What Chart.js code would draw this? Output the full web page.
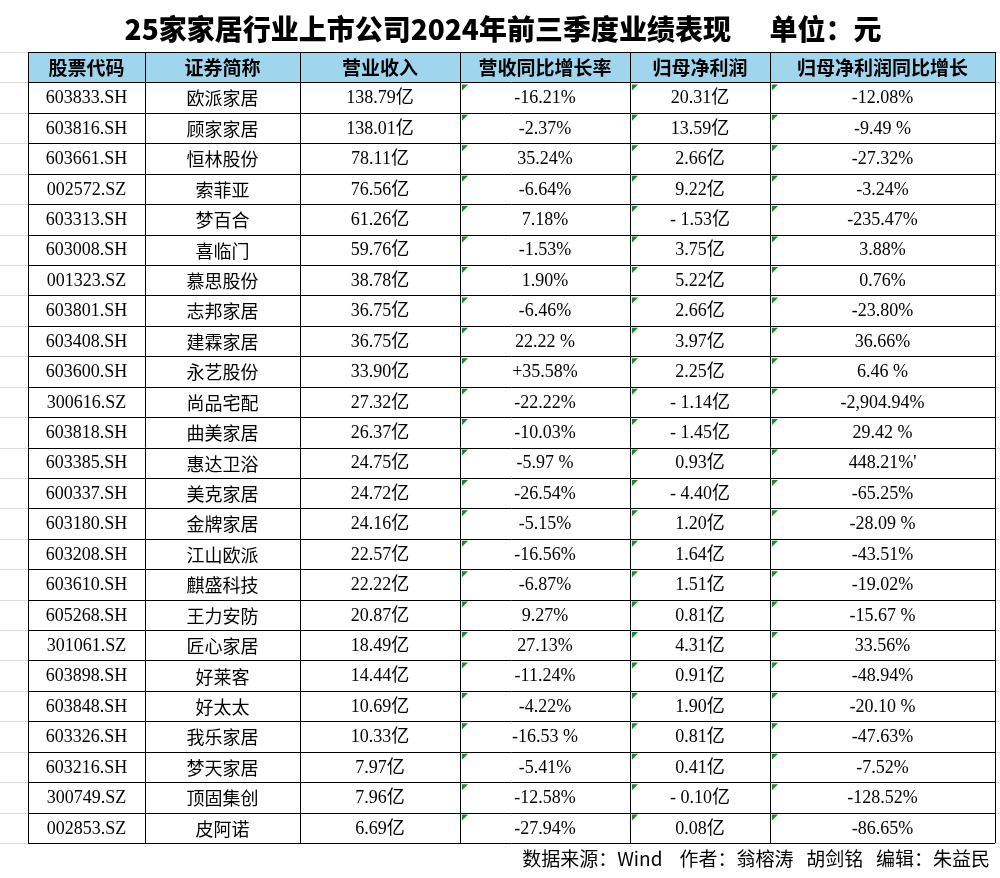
<!DOCTYPE html>
<html><head><meta charset="utf-8">
<script src="https://cdn.jsdelivr.net/npm/chart.js@4"></script>
<style>html,body{margin:0;padding:0;background:#fff}#w{width:1000px;height:878px}</style>
</head><body><div id="w"><canvas id="c" width="1000" height="878"></canvas></div>
<script>
const title = "25家家居行业上市公司2024年前三季度业绩表现      单位：元";
const headers = ["股票代码","证券简称","营业收入","营收同比增长率","归母净利润","归母净利润同比增长"];
const codes = ["603833.SH","603816.SH","603661.SH","002572.SZ","603313.SH","603008.SH","001323.SZ","603801.SH","603408.SH","603600.SH","300616.SZ","603818.SH","603385.SH","600337.SH","603180.SH","603208.SH","603610.SH","605268.SH","301061.SZ","603898.SH","603848.SH","603326.SH","603216.SH","300749.SZ","002853.SZ"];
const names = ["欧派家居","顾家家居","恒林股份","索菲亚","梦百合","喜临门","慕思股份","志邦家居","建霖家居","永艺股份","尚品宅配","曲美家居","惠达卫浴","美克家居","金牌家居","江山欧派","麒盛科技","王力安防","匠心家居","好莱客","好太太","我乐家居","梦天家居","顶固集创","皮阿诺"];
const revenue = ["138.79亿","138.01亿","78.11亿","76.56亿","61.26亿","59.76亿","38.78亿","36.75亿","36.75亿","33.90亿","27.32亿","26.37亿","24.75亿","24.72亿","24.16亿","22.57亿","22.22亿","20.87亿","18.49亿","14.44亿","10.69亿","10.33亿","7.97亿","7.96亿","6.69亿"];
const revGrowth = ["-16.21%","-2.37%","35.24%","-6.64%","7.18%","-1.53%","1.90%","-6.46%","22.22 %","+35.58%","-22.22%","-10.03%","-5.97 %","-26.54%","-5.15%","-16.56%","-6.87%","9.27%","27.13%","-11.24%","-4.22%","-16.53 %","-5.41%","-12.58%","-27.94%"];
const profit = ["20.31亿","13.59亿","2.66亿","9.22亿","- 1.53亿","3.75亿","5.22亿","2.66亿","3.97亿","2.25亿","- 1.14亿","- 1.45亿","0.93亿","- 4.40亿","1.20亿","1.64亿","1.51亿","0.81亿","4.31亿","0.91亿","1.90亿","0.81亿","0.41亿","- 0.10亿","0.08亿"];
const profitGrowth = ["-12.08%","-9.49 %","-27.32%","-3.24%","-235.47%","3.88%","0.76%","-23.80%","36.66%","6.46 %","-2,904.94%","29.42 %","448.21%'","-65.25%","-28.09 %","-43.51%","-19.02%","-15.67 %","33.56%","-48.94%","-20.10 %","-47.63%","-7.52%","-128.52%","-86.65%"];
const footer = "数据来源：Wind    作者：翁榕涛   胡剑铭   编辑：朱益民";

const colEdges = [28,145,300,460,630,770,995];
const rowLabels = ["header"].concat(codes);
const cols = [codes,names,revenue,revGrowth,profit,profitGrowth];

const tablePlugin = {
  id:'table',
  afterDraw(chart){
    const ctx=chart.ctx, x=chart.scales.x, y=chart.scales.y;
    const n=rowLabels.length;
    const half=(y.getPixelForValue(1)-y.getPixelForValue(0))/2;
    const top=i=>y.getPixelForValue(i)-half;
    ctx.save();
    ctx.fillStyle='#000';ctx.font='900 28px "Noto Sans CJK SC"';ctx.textAlign='center';ctx.textBaseline='middle';
    ctx.fillText(title,503,29);
    ctx.fillStyle='#9fd6ee';
    ctx.fillRect(x.getPixelForValue(colEdges[0]),top(0),x.getPixelForValue(colEdges[6])-x.getPixelForValue(colEdges[0]),2*half);
    ctx.strokeStyle='#dcdcdc';ctx.lineWidth=1;
    for(let i=0;i<=n;i++){const yy=Math.round(top(i))+0.5;ctx.beginPath();ctx.moveTo(0,yy);ctx.lineTo(1000,yy);ctx.stroke();}
    ctx.strokeStyle='#000';
    for(let i=0;i<=n;i++){const yy=Math.round(top(i))+0.5;ctx.beginPath();ctx.moveTo(x.getPixelForValue(colEdges[0]),yy);ctx.lineTo(x.getPixelForValue(colEdges[6]),yy);ctx.stroke();}
    colEdges.forEach(e=>{const xx=Math.round(x.getPixelForValue(e))+0.5;ctx.beginPath();ctx.moveTo(xx,top(0));ctx.lineTo(xx,top(n));ctx.stroke();});
    ctx.fillStyle='#000';ctx.font='bold 19px "Noto Sans CJK SC"';
    headers.forEach((h,c)=>{const cx=(x.getPixelForValue(colEdges[c])+x.getPixelForValue(colEdges[c+1]))/2;ctx.fillText(h,cx,y.getPixelForValue(0)+1);});
    for(let r=0;r<codes.length;r++){
      const cy=y.getPixelForValue(r+1)+1;
      cols.forEach((arr,c)=>{
        const cx=(x.getPixelForValue(colEdges[c])+x.getPixelForValue(colEdges[c+1]))/2;
        ctx.fillStyle='#000';
        ctx.font=(c===1?'18px "Noto Sans CJK SC"':'18px "Liberation Serif","Noto Sans CJK SC"');
        ctx.fillText(arr[r],cx,cy);
        if(c>=3){
          const lx=x.getPixelForValue(colEdges[c])+2,ty=top(r+1)+2;
          ctx.fillStyle='#1a8a2a';ctx.beginPath();ctx.moveTo(lx,ty);ctx.lineTo(lx+6,ty);ctx.lineTo(lx,ty+6);ctx.closePath();ctx.fill();
        }
      });
    }
    ctx.fillStyle='#000';ctx.font='19px "Noto Sans CJK SC"';ctx.textAlign='right';
    ctx.fillText(footer,990,top(n)+16);
    ctx.restore();
  }
};

new Chart(document.getElementById('c'),{
  type:'scatter',
  data:{labels:rowLabels,datasets:[{data:[],pointRadius:0}]},
  options:{
    responsive:false,animation:false,
    layout:{padding:{left:28,right:5,top:52,bottom:35}},
    plugins:{legend:{display:false},tooltip:{enabled:false}},
    scales:{
      x:{type:'linear',min:colEdges[0],max:colEdges[6],display:false},
      y:{type:'category',labels:rowLabels,offset:true,display:false}
    }
  },
  plugins:[tablePlugin]
});
</script></body></html>
